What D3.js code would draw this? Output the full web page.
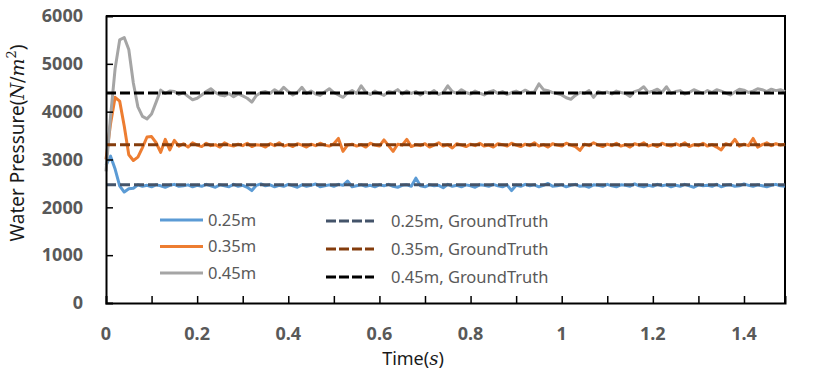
<!DOCTYPE html>
<html><head><meta charset="utf-8">
<script src="https://cdn.jsdelivr.net/npm/d3@7"></script>
<style>body{margin:0;background:#fff}svg{display:block}</style>
</head><body>
<svg id="chart" width="831" height="376"></svg>
<script>
const timeStep = 0.01;
const series025 = [2880,3070,2800,2450,2320,2390,2400,2470,2440,2460,
2430,2470,2450,2420,2460,2480,2440,2450,2470,2430,
2460,2440,2480,2450,2420,2470,2450,2430,2480,2440,
2460,2420,2350,2460,2490,2450,2470,2430,2460,2440,
2480,2450,2420,2470,2440,2460,2490,2430,2450,2470,
2440,2480,2460,2550,2430,2450,2470,2440,2460,2430,
2470,2450,2480,2440,2420,2460,2470,2440,2610,2450,
2430,2470,2450,2460,2410,2480,2440,2460,2430,2470,
2450,2420,2470,2460,2440,2480,2450,2430,2470,2350,
2460,2440,2480,2450,2470,2430,2460,2500,2440,2450,
2470,2430,2460,2480,2440,2450,2420,2470,2460,2440,
2480,2450,2430,2470,2460,2440,2490,2450,2430,2460,
2440,2480,2450,2470,2430,2460,2440,2480,2450,2420,
2470,2450,2460,2440,2480,2430,2460,2470,2440,2450,
2490,2460,2440,2470,2450,2430,2460,2480,2450,2440];
const series035 = [3000,3750,4300,4220,3700,3100,2980,3050,3250,3470,
3480,3350,3150,3420,3200,3400,3280,3330,3260,3350,
3300,3270,3340,3290,3310,3260,3350,3300,3280,3320,
3290,3340,3270,3310,3300,3260,3330,3290,3350,3280,
3310,3270,3330,3300,3260,3320,3290,3340,3300,3280,
3330,3440,3170,3300,3320,3280,3310,3260,3340,3300,
3280,3410,3290,3170,3320,3300,3420,3270,3310,3290,
3330,3260,3300,3350,3280,3310,3240,3330,3300,3270,
3320,3290,3340,3280,3300,3260,3330,3310,3280,3340,
3300,3270,3320,3290,3350,3280,3310,3260,3330,3300,
3280,3340,3300,3270,3190,3320,3290,3350,3300,3270,
3320,3290,3340,3280,3310,3260,3330,3300,3350,3280,
3310,3270,3340,3300,3280,3330,3290,3350,3270,3310,
3290,3340,3280,3310,3260,3200,3330,3300,3420,3280,
3320,3290,3440,3260,3310,3350,3290,3330,3300,3320];
const series045 = [2750,3900,4900,5500,5550,5300,4600,4100,3900,3850,
3950,4200,4450,4380,4430,4420,4360,4400,4320,4250,
4280,4350,4420,4480,4400,4350,4330,4380,4310,4370,
4330,4280,4200,4340,4400,4420,4380,4460,4400,4510,
4420,4350,4400,4510,4380,4430,4370,4340,4410,4480,
4400,4350,4300,4390,4440,4380,4540,4410,4360,4430,
4380,4340,4420,4400,4460,4370,4430,4380,4420,4350,
4410,4380,4440,4360,4400,4540,4420,4380,4460,4400,
4370,4430,4390,4350,4410,4440,4380,4420,4360,4400,
4430,4390,4450,4400,4410,4580,4460,4440,4400,4380,
4350,4290,4260,4340,4400,4380,4440,4300,4420,4390,
4410,4370,4430,4400,4380,4320,4420,4450,4520,4400,
4430,4470,4400,4520,4380,4420,4440,4370,4400,4460,
4420,4380,4440,4400,4460,4430,4390,4350,4410,4470,
4450,4400,4430,4480,4460,4420,4470,4440,4460,4420];
const groundTruth = [2470, 3310, 4390];
const seriesNames = ["0.25m", "0.35m", "0.45m"];
const gtNames = ["0.25m, GroundTruth", "0.35m, GroundTruth", "0.45m, GroundTruth"];
const yTicks = [0,1000,2000,3000,4000,5000,6000];
const xMinorTicks = [0,0.1,0.2,0.3,0.4,0.5,0.6,0.7,0.8,0.9,1.0,1.1,1.2,1.3,1.4];
const xLabelTicks = [0,0.2,0.4,0.6,0.8,1,1.2,1.4];

const lineColors = ["#5B9BD5", "#ED7D31", "#A5A5A5"];
const gtColors = ["#44546A", "#843C0C", "#000000"];

const svg = d3.select("#chart");
const W = 831, H = 376;
const m = {left:106, right:46, top:16, bottom:73};
const iw = W - m.left - m.right, ih = H - m.top - m.bottom;
const g = svg.append("g").attr("transform", `translate(${m.left},${m.top})`);

const x = d3.scaleLinear().domain([0, 1.49]).range([0, iw]);
const y = d3.scaleLinear().domain([0, 6000]).range([ih, 0]);

g.append("path").attr("d", `M0,0H${iw}V${ih}`).attr("fill","none").attr("stroke","#000").attr("stroke-width",2);

const allSeries = [series025, series035, series045];
const line = d3.line().x((d,i)=>x(i*timeStep)).y(d=>y(d));
allSeries.forEach((s,k)=>{
  g.append("path").datum(s).attr("d", line).attr("fill","none")
   .attr("stroke", lineColors[k]).attr("stroke-width", 3).attr("stroke-linejoin","round");
});
groundTruth.forEach((v,k)=>{
  g.append("line").attr("x1", x(0)).attr("x2", iw).attr("y1", y(v)).attr("y2", y(v))
   .attr("stroke", gtColors[k]).attr("stroke-width", 3).attr("stroke-dasharray","10,4");
});

const yAxis = d3.axisLeft(y).tickValues(yTicks).tickSize(-7).tickPadding(23).tickFormat(d3.format("d"));
const ya = g.append("g").call(yAxis);
ya.select(".domain").attr("stroke","#000").attr("stroke-width",2);
ya.selectAll(".tick line").attr("stroke","#000").attr("stroke-width",1.5);
ya.selectAll("text").attr("font-family","'Noto Sans', 'Open Sans', sans-serif").attr("font-size",18)
  .attr("font-weight","bold").attr("fill","#595959");
ya.selectAll(".tick").filter(d=>d===6000 || d===0).select("line").remove();

const xAxis = d3.axisBottom(x).tickValues(xMinorTicks).tickSize(-7).tickFormat("");
const xa = g.append("g").attr("transform",`translate(0,${ih})`).call(xAxis);
xa.select(".domain").attr("stroke","#000").attr("stroke-width",2);
xa.selectAll(".tick line").attr("stroke","#000").attr("stroke-width",1.5);
xa.selectAll(".tick").filter(d=>d===0).select("line").remove();

g.append("g").selectAll("text").data(xLabelTicks).join("text")
  .attr("x", d=>x(d)).attr("y", ih+37).attr("text-anchor","middle")
  .attr("font-family","'Noto Sans', 'Open Sans', sans-serif").attr("font-size",18)
  .attr("font-weight","bold").attr("fill","#595959").text(d=>d3.format("~g")(d));

const serif = "'DejaVu Serif', 'Liberation Serif', serif";
const xt = svg.append("text").attr("x", 413).attr("y", 365).attr("text-anchor","middle")
  .attr("font-family","'Noto Sans', sans-serif").attr("font-size",18).attr("fill","#1a1a1a");
xt.append("tspan").text("Time(");
xt.append("tspan").attr("font-family",serif).attr("font-style","italic").text("s");
xt.append("tspan").text(")");

const yt = svg.append("text").attr("transform","translate(24,143) rotate(-90)").attr("text-anchor","middle")
  .attr("font-family","'Noto Sans', sans-serif").attr("font-size",19).attr("fill","#1a1a1a");
yt.append("tspan").text("Water Pressure(");
yt.append("tspan").attr("font-family",serif).attr("font-style","italic").text("N");
yt.append("tspan").attr("font-family",serif).text("/");
yt.append("tspan").attr("font-family",serif).attr("font-style","italic").text("m");
yt.append("tspan").attr("font-family",serif).attr("font-size",13).attr("dy",-8).text("2");
yt.append("tspan").attr("dy",8).text(")");

const lf = "'Noto Sans', 'Open Sans', sans-serif";
seriesNames.forEach((n,k)=>{
  const yy = 220 + k*26.5;
  svg.append("line").attr("x1",160).attr("x2",203).attr("y1",yy).attr("y2",yy)
    .attr("stroke", lineColors[k]).attr("stroke-width",3);
  svg.append("text").attr("x",208).attr("y",yy).attr("dy","0.36em").attr("font-family",lf)
    .attr("font-size",16.5).attr("fill","#595959").text(n);
});
gtNames.forEach((n,k)=>{
  const yy = 221 + k*28;
  svg.append("line").attr("x1",326).attr("x2",374).attr("y1",yy).attr("y2",yy)
    .attr("stroke", gtColors[k]).attr("stroke-width",3).attr("stroke-dasharray","10,3");
  svg.append("text").attr("x",391).attr("y",yy).attr("dy","0.36em").attr("font-family",lf)
    .attr("font-size",16.5).attr("fill","#595959").text(n);
});
</script>
</body></html>
